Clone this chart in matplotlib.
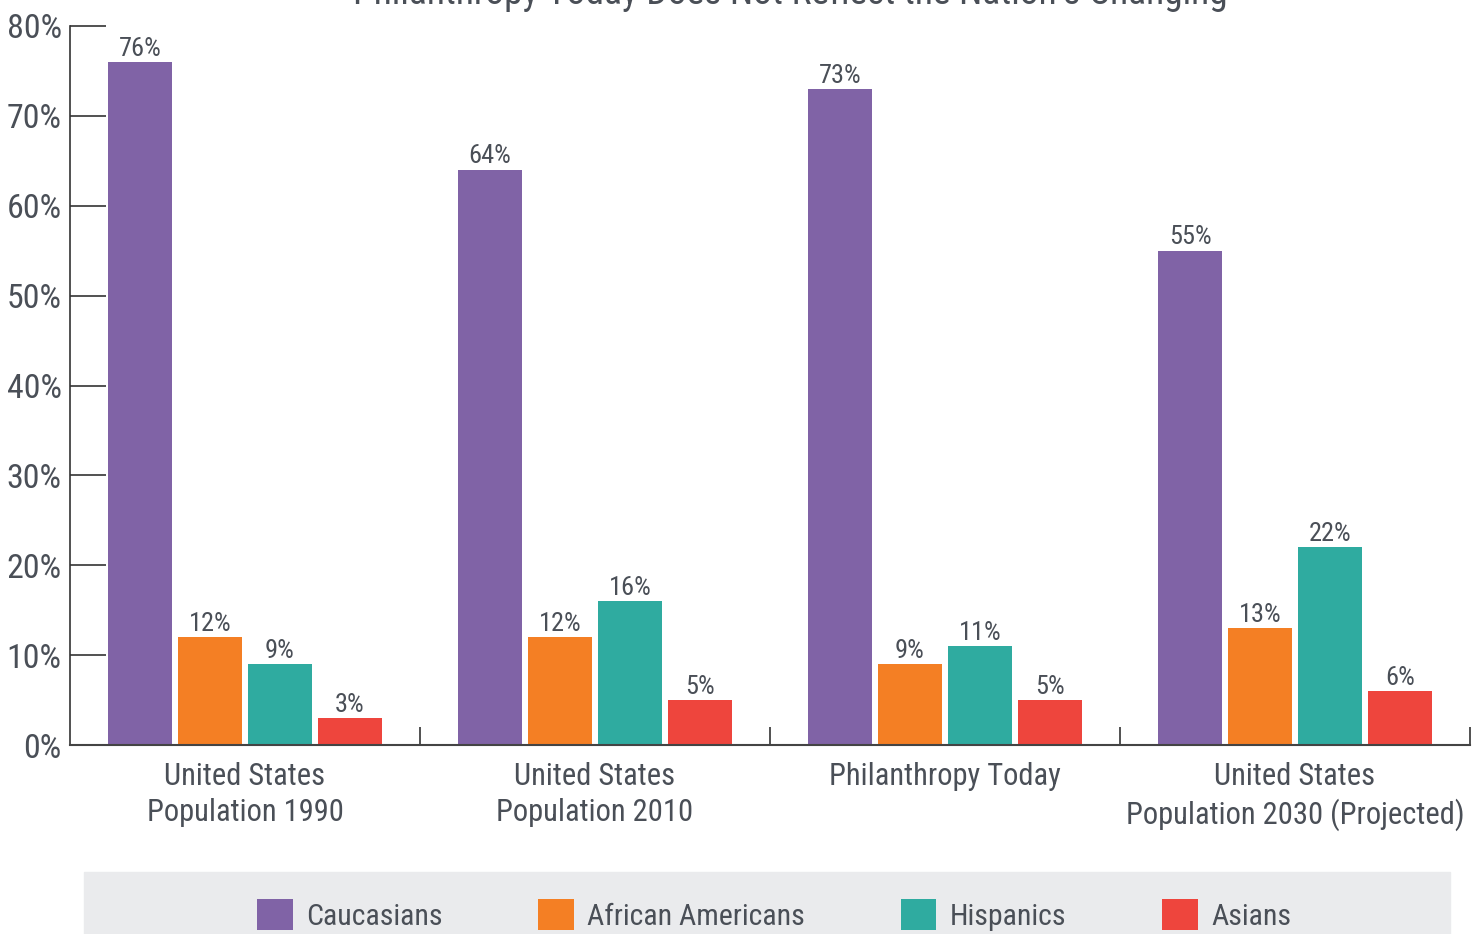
import numpy as np
import matplotlib
matplotlib.use("Agg")
import matplotlib.pyplot as plt
from matplotlib.patches import Rectangle

# Data
groups = ["United States\nPopulation 1990", "United States\nPopulation 2010",
          "Philanthropy Today", "United States\nPopulation 2030 (Projected)"]
series = ["Caucasians", "African Americans", "Hispanics", "Asians"]
caucasians = [76, 64, 73, 55]
african_americans = [12, 12, 9, 13]
hispanics = [9, 16, 11, 22]
asians = [3, 5, 5, 6]
values = [caucasians, african_americans, hispanics, asians]
colors = ["#8063A6", "#F47F24", "#2FABA0", "#EE453D"]
yticks = [0, 10, 20, 30, 40, 50, 60, 70, 80]

plt.rcParams['font.family'] = ['Roboto Condensed', 'Roboto', 'DejaVu Sans']
text_color = "#4a4f57"

fig = plt.figure(figsize=(14.82, 9.34), dpi=100)
ax = fig.add_axes([70 / 1482, 1 - 745 / 934, 1400 / 1482, 719 / 934])

x = np.arange(len(groups))
width = 0.183
offsets = [-0.3, -0.1, 0.1, 0.3]
for vals, off, col, name in zip(values, offsets, colors, series):
    bars = ax.bar(x + off, vals, width, color=col, label=name, zorder=2)
    ax.bar_label(bars, labels=[f"{v}%" for v in vals], padding=1,
                 fontsize=19, color=text_color)

ax.set_xlim(-0.5, 3.5)
ax.set_ylim(0, 80)

# Spines
for s in ["top", "right"]:
    ax.spines[s].set_visible(False)
ax.spines["left"].set_color("#333333")
ax.spines["bottom"].set_color("#444444")
ax.spines["left"].set_linewidth(1.2)
ax.spines["bottom"].set_linewidth(1.5)

# Y ticks
ax.set_yticks(yticks)
ax.set_yticklabels([f"{t}%" for t in yticks])
ax.tick_params(axis="y", direction="in", length=26, width=1.2, color="#333333",
               labelsize=24.5, labelcolor=text_color, pad=6)

# X ticks: labels at centers, separators at group boundaries
ax.set_xticks(x)
ax.set_xticklabels(groups, linespacing=1.3)
ax.tick_params(axis="x", which="major", length=0, labelsize=22,
               labelcolor=text_color, pad=12)
ax.set_xticks(np.arange(0.5, 4.0, 1.0), minor=True)
ax.tick_params(axis="x", which="minor", direction="in", length=13, width=1.2,
               color="#333333")

# Title (cut off at the top of the image)
fig.text(0.533, 1 - 4 / 934, "Philanthropy Today Does Not Reflect the Nation's Changing",
         ha="center", va="baseline", fontsize=27, color=text_color)

# Legend band
fig.patches.append(Rectangle((84 / 1482, 0), 1366 / 1482, 62 / 934,
                             transform=fig.transFigure, color="#EAEBED", zorder=0))
leg = fig.legend(loc="center", bbox_to_anchor=(774 / 1482, 1 - 915 / 934), ncol=4,
                 frameon=False, fontsize=21.5, handlelength=1.2, handleheight=1.2,
                 handletextpad=0.45, columnspacing=3.2, borderpad=0)
for t in leg.get_texts():
    t.set_color(text_color)

fig.savefig("out.png", dpi=100)
